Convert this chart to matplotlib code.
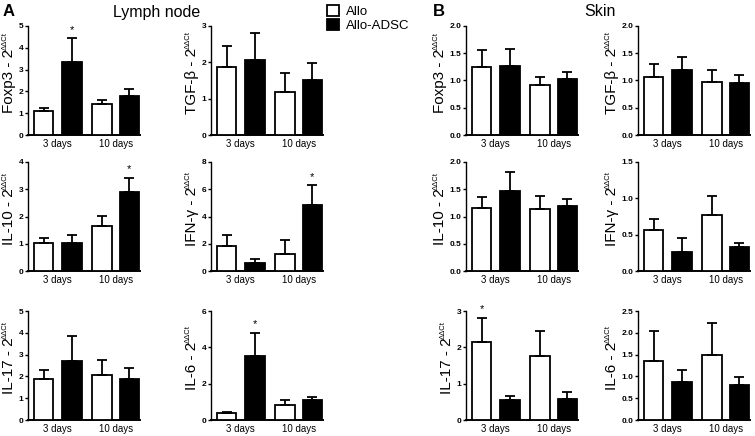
import numpy as np
import matplotlib.pyplot as plt
from matplotlib.patches import Patch

plt.rcParams['font.family'] = ['Liberation Sans', 'DejaVu Sans']

# -----------------------------
# Data (mean, upper error bar end)
# -----------------------------
days = ['3 days', '10 days']
groups = ['Allo', 'Allo-ADSC']
markers = ['Foxp3', 'TGF-β', 'IL-10', 'IFN-γ', 'IL-17', 'IL-6']

# lymph node, [3 days, 10 days]
ln_allo = [[1.10, 1.42], [1.86, 1.18], [1.04, 1.66], [1.84, 1.28], [1.88, 2.06], [0.37, 0.83]]
ln_allo_top = [[1.22, 1.62], [2.45, 1.70], [1.22, 2.01], [2.62, 2.25], [2.31, 2.77], [0.46, 1.10]]
ln_adsc = [[3.35, 1.80], [2.07, 1.52], [1.01, 2.90], [0.58, 4.85], [2.69, 1.88], [3.50, 1.10]]
ln_adsc_top = [[4.45, 2.12], [2.82, 1.98], [1.33, 3.43], [0.85, 6.30], [3.85, 2.38], [4.80, 1.29]]

# skin, [3 days, 10 days]
sk_allo = [[1.24, 0.92], [1.07, 0.97], [1.15, 1.14], [0.56, 0.77], [2.14, 1.77], [1.35, 1.48]]
sk_allo_top = [[1.56, 1.07], [1.30, 1.19], [1.35, 1.38], [0.71, 1.03], [2.82, 2.45], [2.03, 2.22]]
sk_adsc = [[1.27, 1.02], [1.19, 0.96], [1.47, 1.19], [0.26, 0.33], [0.54, 0.57], [0.88, 0.80]]
sk_adsc_top = [[1.57, 1.15], [1.44, 1.11], [1.82, 1.32], [0.45, 0.39], [0.66, 0.76], [1.15, 0.98]]

# y axis ranges
ln_ymax = [5, 3, 4, 8, 5, 6]
ln_ystep = [1, 1, 1, 2, 1, 2]
sk_ymax = [2.0, 2.0, 2.0, 1.5, 3, 2.5]
sk_ystep = [0.5, 0.5, 0.5, 0.5, 1, 0.5]
sk_decimals = [1, 1, 1, 1, 0, 1]

# significance stars: (marker index, group index, day index)
ln_stars = [(0, 1, 0), (2, 1, 1), (3, 1, 1), (5, 1, 0)]
sk_stars = [(4, 0, 0)]

W, H = 755, 436
fig = plt.figure(figsize=(W / 100, H / 100), dpi=100)

col_left = [28, 211, 466, 638]
row_bottom = [135, 271, 420]
ax_w, ax_h = 112, 109

# bar positions (x units)
x_allo = np.array([0.8, 3.8])
x_adsc = np.array([2.25, 5.2])
x_lab = (x_allo + x_adsc) / 2


def draw_panel(ax, allo, allo_top, adsc, adsc_top, ymax, ystep, dec, label, stars):
    allo = np.array(allo)
    adsc = np.array(adsc)
    err_kw = dict(elinewidth=1.3, capsize=3.8, capthick=1.3, ecolor='black')
    ax.bar(x_allo, allo, width=1.0, color='white', edgecolor='black', linewidth=1.3,
           yerr=[np.zeros(2), np.array(allo_top) - allo], error_kw=err_kw, zorder=3)
    ax.bar(x_adsc, adsc, width=1.0, color='black', edgecolor='black', linewidth=1.3,
           yerr=[np.zeros(2), np.array(adsc_top) - adsc], error_kw=err_kw, zorder=3)
    for g, d in stars:
        xs = x_allo[d] if g == 0 else x_adsc[d]
        ys = (allo_top if g == 0 else adsc_top)[d]
        ax.text(xs, ys + ymax * 0.03, '*', ha='center', va='bottom', fontsize=8)
    ax.set_xlim(0, 5.75)
    ax.set_ylim(0, ymax)
    ticks = np.arange(0, ymax + ystep / 2, ystep)
    ax.set_yticks(ticks)
    ax.set_yticklabels([f'{t:.{dec}f}' for t in ticks], fontsize=6, fontweight='bold')
    ax.set_xticks(x_lab)
    ax.set_xticklabels(days, fontsize=7)
    ax.tick_params(axis='x', length=0, pad=3)
    ax.tick_params(axis='y', length=2.5, width=1, pad=1)
    for s in ['top', 'right']:
        ax.spines[s].set_visible(False)
    ax.spines['left'].set_linewidth(1.0)
    ax.spines['bottom'].set_linewidth(1.4)
    ax.set_ylabel(label + ' - 2', fontsize=11, labelpad=1.5)
    # small superscript after the "2"
    ax.annotate('ΔΔCt', xy=(0, 1), xycoords=ax.yaxis.label, xytext=(-0.5, -1.2),
                textcoords='offset points', rotation=90, ha='left', va='bottom',
                fontsize=5.5)


for i, m in enumerate(markers):
    r, c = divmod(i, 2)
    for t, (allo, allo_top, adsc, adsc_top, ymax, ystep, stars) in enumerate([
            (ln_allo, ln_allo_top, ln_adsc, ln_adsc_top, ln_ymax, ln_ystep, ln_stars),
            (sk_allo, sk_allo_top, sk_adsc, sk_adsc_top, sk_ymax, sk_ystep, sk_stars)]):
        left = col_left[c + 2 * t]
        ax = fig.add_axes([left / W, 1 - row_bottom[r] / H, ax_w / W, ax_h / H])
        dec = 0 if t == 0 else sk_decimals[i]
        st = [(g, d) for k, g, d in stars if k == i]
        draw_panel(ax, allo[i], allo_top[i], adsc[i], adsc_top[i],
                   ymax[i], ystep[i], dec, m, st)

# panel letters and titles
fig.text(3 / W, 1 - 12 / H, 'A', fontsize=12, fontweight='bold', va='center', ha='left')
fig.text(157 / W, 1 - 12 / H, 'Lymph node', fontsize=11.5, va='center', ha='center')
fig.text(433 / W, 1 - 12 / H, 'B', fontsize=12, fontweight='bold', va='center', ha='left')
fig.text(600 / W, 1 - 12 / H, 'Skin', fontsize=11.5, va='center', ha='center')

handles = [Patch(facecolor='white', edgecolor='black', linewidth=1.3),
           Patch(facecolor='black', edgecolor='black', linewidth=1.3)]
fig.legend(handles, groups, loc='upper left', bbox_to_anchor=(327 / W, 1 - 5 / H),
           frameon=False, fontsize=9.5, handlelength=0.9, handleheight=0.9,
           handletextpad=0.5, labelspacing=0.1, borderpad=0, borderaxespad=0)

fig.savefig('out.png', dpi=100)
